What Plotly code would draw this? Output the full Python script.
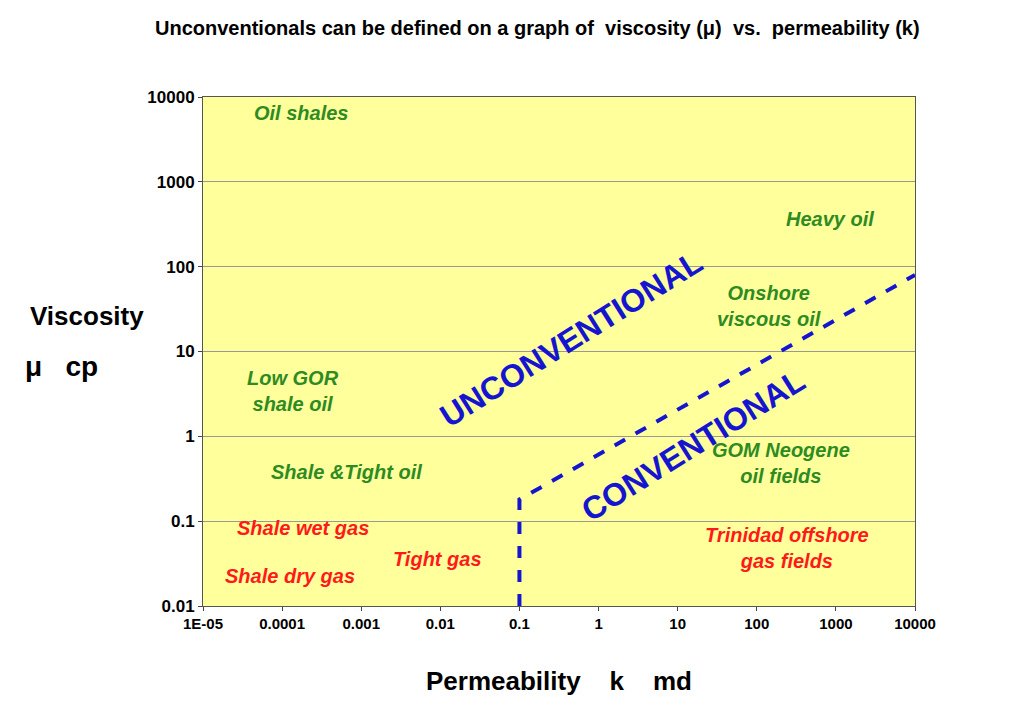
import plotly.graph_objects as go

# dashed boundary between conventional and unconventional
line_k = [0.1, 0.1, 10000]
line_mu = [0.01, 0.18, 80]

x_ticks = [1e-5, 1e-4, 1e-3, 1e-2, 0.1, 1, 10, 100, 1000, 10000]
x_ticktext = ["1E-05", "0.0001", "0.001", "0.01", "0.1", "1", "10", "100", "1000", "10000"]
y_ticks = [0.01, 0.1, 1, 10, 100, 1000, 10000]
y_ticktext = ["0.01", "0.1", "1", "10", "100", "1000", "10000"]

# labels: text, log10(k), log10(mu), colour
labels = [
    ("Oil shales", -3.75, 3.81, "green"),
    ("Heavy oil", 2.92, 2.56, "green"),
    ("Onshore<br>viscous oil", 2.16, 1.54, "green"),
    ("Low GOR<br>shale oil", -3.86, 0.53, "green"),
    ("Shale &Tight oil", -3.18, -0.42, "green"),
    ("GOM Neogene<br>oil fields", 2.30, -0.31, "green"),
    ("Shale wet gas", -3.73, -1.08, "red"),
    ("Tight gas", -2.04, -1.45, "red"),
    ("Shale dry gas", -3.90, -1.65, "red"),
    ("Trinidad offshore<br>gas fields", 2.38, -1.32, "red"),
]
colours = {"green": "#2E8B22", "red": "#FF1A1A"}

fig = go.Figure()
fig.add_trace(go.Scatter(x=line_k, y=line_mu, mode="lines",
                         line=dict(color="#1515D0", width=4, dash="dash"),
                         showlegend=False, hoverinfo="skip"))

for txt, lx, ly, c in labels:
    fig.add_annotation(x=lx, y=ly, text="<b><i>" + txt + "</i></b>", showarrow=False,
                       font=dict(size=20, color=colours[c]))

fig.add_annotation(x=-0.35, y=1.15, text="<b>UNCONVENTIONAL</b>", textangle=-32,
                   showarrow=False, font=dict(size=32, color="#1515D0"))
fig.add_annotation(x=1.2, y=-0.1, text="<b>CONVENTIONAL</b>", textangle=-32,
                   showarrow=False, font=dict(size=32, color="#1515D0"))

fig.add_annotation(xref="paper", yref="paper", x=0.47, y=1.0, yshift=82,
                   text="<b>Unconventionals can be defined on a graph of  viscosity (\u03bc)  vs.  permeability (k)</b>",
                   showarrow=False, font=dict(size=20, color="black"))
fig.add_annotation(xref="paper", yref="paper", x=-0.175, y=0.57, xshift=-50,
                   text="<b>Viscosity</b>", showarrow=False, font=dict(size=26, color="black"))
fig.add_annotation(xref="paper", yref="paper", x=-0.175, y=0.47, xshift=-55,
                   text="<b>\u03bc   cp</b>", showarrow=False, font=dict(size=28, color="black"))
fig.add_annotation(xref="paper", yref="paper", x=0.5, y=0, yshift=-92,
                   text="<b>Permeability    k    md</b>", showarrow=False,
                   font=dict(size=26, color="black"))

fig.update_layout(
    width=1024, height=723,
    margin=dict(l=195, r=117, t=89, b=125),
    paper_bgcolor="white", plot_bgcolor="#FFFF9C",
    font=dict(family="Liberation Sans, Arial, sans-serif", color="black"),
    xaxis=dict(type="log", range=[-5, 4], tickvals=x_ticks,
               ticktext=["<b>" + t + "</b>" for t in x_ticktext],
               showgrid=False, showline=True, linecolor="#555", mirror=True,
               ticks="outside", ticklen=4, tickfont=dict(size=15)),
    yaxis=dict(type="log", range=[-2, 4], tickvals=y_ticks,
               ticktext=["<b>" + t + "</b>" for t in y_ticktext],
               showgrid=True, gridcolor="#999", showline=True, linecolor="#555",
               mirror=True, ticks="outside", ticklen=4, tickfont=dict(size=17)),
)

fig.write_html("out.html")
